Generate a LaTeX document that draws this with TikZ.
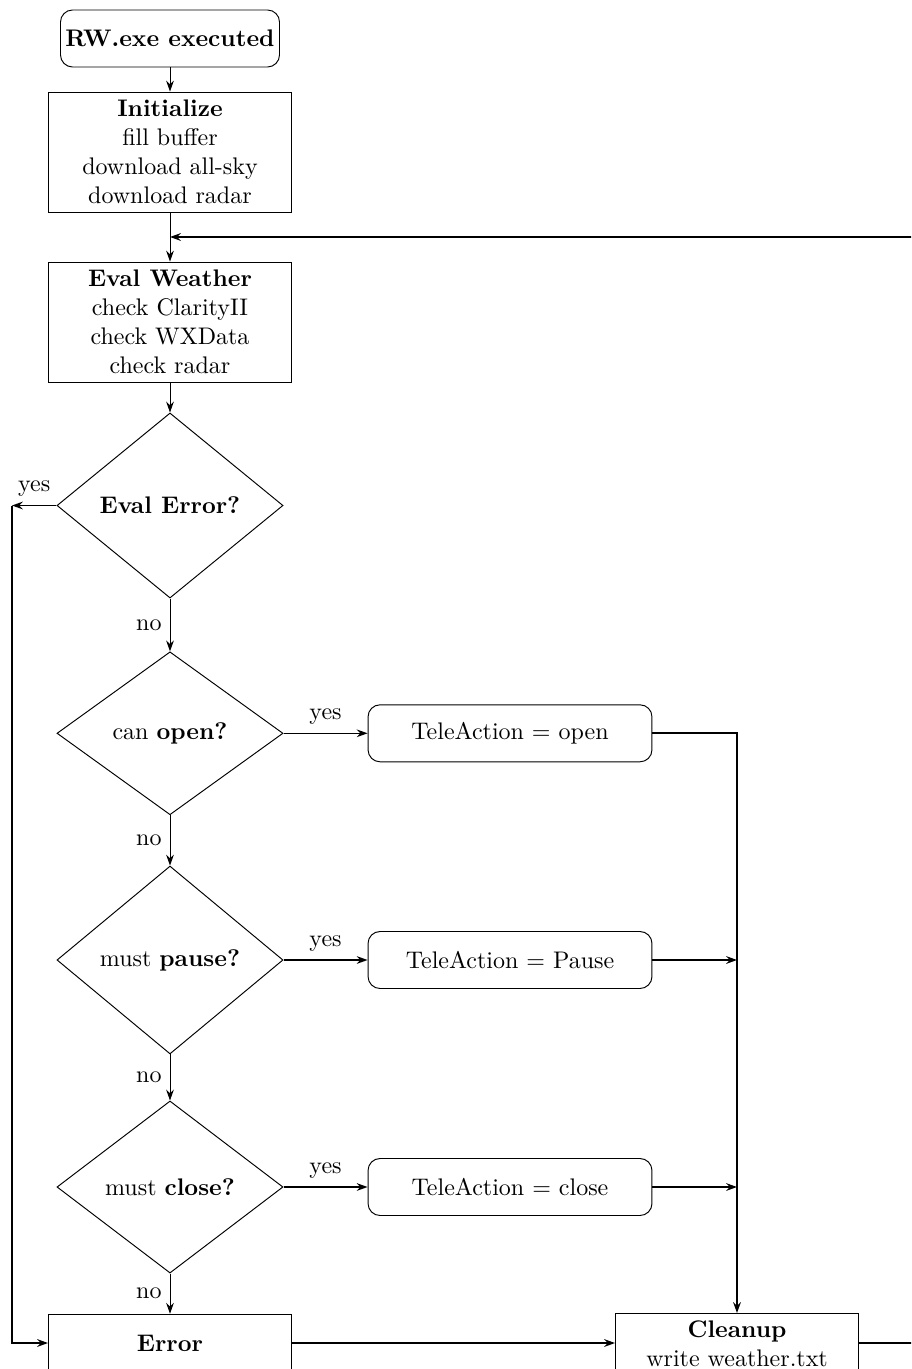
\documentclass[tikz,border=0pt]{standalone}
\usetikzlibrary{shapes.geometric,arrows.meta}
\begin{document}
\begin{tikzpicture}[x=0.41667pt,y=-0.41667pt,
  >={Stealth[length=4.5pt,width=3.2pt]},
  startbox/.style={draw,rounded corners=5pt,minimum width=91.25pt,minimum height=23.75pt,inner sep=2pt},
  blockbox/.style={draw,minimum width=101.25pt,align=center,inner sep=3pt},
  decbox/.style={draw,diamond,aspect=1.3,minimum width=94.2pt,inner sep=0pt,align=center},
  actbox/.style={draw,rounded corners=5pt,minimum width=118.3pt,minimum height=23.75pt},
  conn/.style={->},
  route/.style={->,semithick}
]
\useasboundingbox (0,0) rectangle (911,1369);
\clip (0,0) rectangle (911,1369);

\node[startbox] (start) at (170,38.5) {\textbf{RW.exe executed}};
\node[blockbox,minimum height=50pt] (init) at (170,152) {\textbf{Initialize}\\fill buffer\\download all-sky\\download radar};
\node[blockbox,minimum height=50pt] (eval) at (170,322) {\textbf{Eval Weather}\\check ClarityII\\check WXData\\check radar};
\node[decbox,minimum height=77.1pt] (d1) at (170,505.5) {\textbf{Eval Error?}};
\node[decbox,minimum height=67.9pt] (d2) at (170,733.3) {can \textbf{open?}};
\node[decbox,minimum height=78.3pt] (d3) at (170,960) {must \textbf{pause?}};
\node[decbox,minimum height=71.7pt] (d4) at (170,1187) {must \textbf{close?}};
\node[actbox] (a1) at (510,733.3) {TeleAction = open};
\node[actbox] (a2) at (510,960) {TeleAction = Pause};
\node[actbox] (a3) at (510,1187) {TeleAction = close};
\node[blockbox,minimum height=24pt] (err) at (170,1343) {\textbf{Error}};
\node[blockbox,anchor=north] (clean) at (737,1313) {\textbf{Cleanup}\\write weather.txt};

\coordinate (c1) at (12,505.5);
\coordinate (j2) at (737,960);
\coordinate (j3) at (737,1187);
\coordinate (loop) at (170,237);
\coordinate (far) at (960,1343);

\draw[conn] (start) -- (init);
\draw[conn] (init) -- (eval);
\draw[conn] (eval) -- (d1);
\draw[conn] (d1) -- node[left]{no} (d2);
\draw[conn] (d2) -- node[left]{no} (d3);
\draw[conn] (d3) -- node[left]{no} (d4);
\draw[conn] (d4) -- node[left]{no} (err);

\draw[route] (d1.west) -- node[above]{yes} (c1);
\draw[route,thick] (c1) |- (err.west);
\draw[route] (d2.east) -- node[above]{yes} (a1.west);
\draw[route] (d3.east) -- node[above]{yes} (a2.west);
\draw[route] (d4.east) -- node[above]{yes} (a3.west);

\draw[route,thick] (a1.east) -| (clean.north);
\draw[route] (a2.east) -- (j2);
\draw[route] (a3.east) -- (j3);
\draw[route,thick] (err.east) -- (err.east -| clean.west);
\draw[route,thick] (err.east -| clean.east) -- (far) |- (loop);
\end{tikzpicture}
\end{document}
